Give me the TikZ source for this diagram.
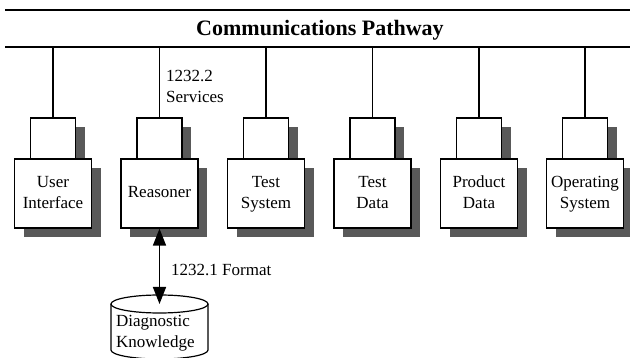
\documentclass[tikz,border=0pt]{standalone}
\usepackage{fontspec}
\setmainfont{Liberation Serif}
\usetikzlibrary{arrows.meta,shadows}
\begin{document}
\begin{tikzpicture}[x=1pt,y=-1pt,
  lbl/.style={font=\fontsize{17}{21}\selectfont},
  shad/.style={drop shadow={shadow xshift=9pt,shadow yshift=-9pt,fill=black!65,opacity=1}},
  topbox/.style={draw,fill=white,line width=1.2pt,minimum width=45pt,minimum height=41pt,inner sep=0pt,shad},
  mainbox/.style={draw,fill=white,line width=1.2pt,minimum width=77pt,minimum height=69pt,inner sep=0pt,align=center,lbl,shad},
  bus/.style={line width=1.8pt},
  stub/.style={line width=1.4pt},
  note/.style={lbl,inner sep=0pt,align=left}]
\useasboundingbox (0,0) rectangle (630,358);
% pathway
\coordinate (t1) at (5,10);
\coordinate (t2) at (630,10);
\coordinate (b1) at (5,47);
\coordinate (b2) at (630,47);
\draw[bus] (t1) -- (t2);
\draw[bus] (b1) -- (b2);
\node[font=\fontsize{22}{26}\selectfont\bfseries,anchor=base,inner sep=0pt] (title) at (320,35.5) {Communications Pathway};
% modules
\foreach \cx/\nm/\txt in {53/ui/{User\\Interface},159.5/rs/{Reasoner},266/ts/{Test\\System},372.5/td/{Test\\Data},479/pd/{Product\\Data},585/os/{Operating\\System}}{
  \coordinate (\nm-bus) at (\cx,47);
  \node[topbox] (\nm-top) at (\cx,138.5) {};
  \node[mainbox] (\nm-main) at (\cx,193.5) {\strut\txt\strut};
  \draw[stub] (\nm-bus) -- (\nm-top.north);
}
\node[note,anchor=west] (svc) at (166,86) {1232.2\\Services};
% knowledge base
\coordinate (kb) at (159.5,304);
\draw[line width=1.2pt,fill=white] (111,304) -- (111,350) arc[start angle=180,end angle=0,x radius=48.5,y radius=9] -- (208,304);
\draw[line width=1.2pt] (kb) ellipse [x radius=48.5,y radius=9];
\node[note,anchor=west] (kbtext) at (116,333) {Diagnostic\\Knowledge};
\draw[line width=1.5pt,{Triangle[length=17pt,width=13pt]}-{Triangle[length=17pt,width=13pt]}] (rs-main.south) -- (kb);
\node[note,anchor=west] (fmt) at (171,270) {1232.1 Format};
\end{tikzpicture}
\end{document}
